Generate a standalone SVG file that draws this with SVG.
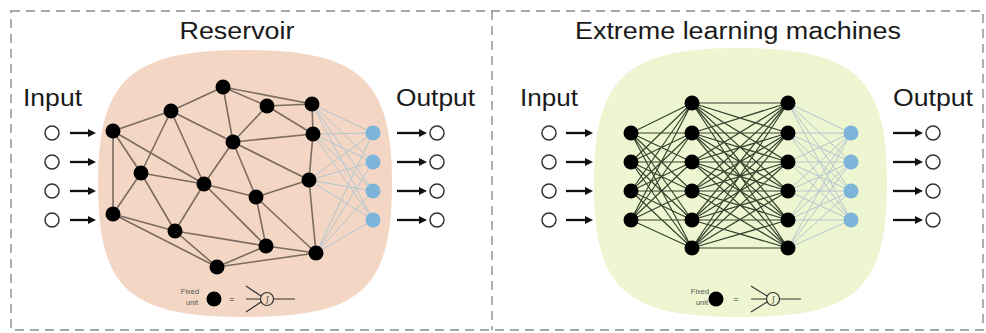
<svg xmlns="http://www.w3.org/2000/svg" width="986" height="333" viewBox="0 0 986 333">
<defs>
<style>
.frame{fill:none;stroke:#8c8c8c;stroke-width:1.4;stroke-dasharray:9 6}
.title{font-family:"Liberation Sans",Arial,sans-serif;font-size:23px;fill:#1a1a1a}
.lbl{font-family:"Liberation Sans",Arial,sans-serif;font-size:23px;fill:#1a1a1a}
.tiny{font-family:"Liberation Sans",Arial,sans-serif;font-size:7.5px;fill:#555}
.io{fill:#fff;stroke:#333;stroke-width:1.5}
.n{fill:#000}
.b{fill:#7db4d9}
.arr{stroke:#111;stroke-width:2.3;fill:none}
.res{stroke:#7b6b60;stroke-width:1.6;fill:none}
.elm{stroke:#37432f;stroke-width:1.2;fill:none}
.lite{stroke:#b4c6cf;stroke-width:1;fill:none}
.sym{stroke:#333;stroke-width:1.2;fill:none}
</style>
<marker id="ah" markerWidth="8" markerHeight="8" refX="1" refY="4" orient="auto" markerUnits="userSpaceOnUse"><path d="M0,0 L8,4 L0,8 Z" fill="#111"/></marker>
</defs>
<rect width="986" height="333" fill="#fff"/>
<rect class="frame" x="11" y="11" width="972" height="319"/>
<line class="frame" x1="492" y1="11" x2="492" y2="330"/>

<!-- blobs -->
<path id="reservoir-bg" d="M245,50 C360,50 392,80 392,183 C392,290 360,317 245,317 C130,317 98,290 98,183 C98,80 130,50 245,50 Z" fill="#f3d7c4"/>
<path id="elm-bg" d="M740,48 C855,48 887,78 887,183 C887,290 855,317 740,317 C625,317 594,290 594,183 C594,78 625,48 740,48 Z" fill="#eef5d1"/>

<text class="title" x="237" y="39" text-anchor="middle" textLength="115" lengthAdjust="spacingAndGlyphs">Reservoir</text>
<text class="title" x="738" y="39" text-anchor="middle" textLength="326" lengthAdjust="spacingAndGlyphs">Extreme learning machines</text>
<text class="lbl" x="23" y="106" textLength="59" lengthAdjust="spacingAndGlyphs">Input</text>
<text class="lbl" x="396" y="106" textLength="79" lengthAdjust="spacingAndGlyphs">Output</text>
<text class="lbl" x="520" y="106" textLength="58" lengthAdjust="spacingAndGlyphs">Input</text>
<text class="lbl" x="893" y="106" textLength="80" lengthAdjust="spacingAndGlyphs">Output</text>

<g id="connectors">
<!-- reservoir internal edges -->
<path class="res" d="M113,131L113,214 M113,131L171,111 M113,131L141,173 M113,131L204,184 M113,214L141,173 M113,214L175,231 M113,214L217,267 M171,111L141,173 M171,111L223,87 M171,111L233,142 M171,111L204,184 M141,173L204,184 M141,173L175,231 M223,87L267,106 M223,87L312,104 M223,87L233,142 M267,106L312,104 M267,106L233,142 M267,106L313,134 M312,104L313,134 M233,142L313,134 M233,142L204,184 M233,142L256,197 M233,142L309,180 M313,134L309,180 M204,184L256,197 M204,184L175,231 M204,184L266,246 M256,197L309,180 M256,197L266,246 M256,197L316,253 M309,180L316,253 M175,231L266,246 M175,231L217,267 M217,267L266,246 M266,246L316,253 M217,267L316,253"/>
<!-- reservoir readout -->
<path class="lite" d="M312,104L373,133 M312,104L373,162 M312,104L373,191 M312,104L373,220 M313,134L373,133 M313,134L373,162 M313,134L373,191 M313,134L373,220 M309,180L373,133 M309,180L373,162 M309,180L373,191 M309,180L373,220 M316,253L373,133 M316,253L373,162 M316,253L373,191 M316,253L373,220"/>
<!-- ELM layer1 -> layer2 -->
<path class="elm" d="M631,133L692,103 M631,133L692,133 M631,133L692,162 M631,133L692,191 M631,133L692,220 M631,133L692,248 M631,162L692,103 M631,162L692,133 M631,162L692,162 M631,162L692,191 M631,162L692,220 M631,162L692,248 M631,191L692,103 M631,191L692,133 M631,191L692,162 M631,191L692,191 M631,191L692,220 M631,191L692,248 M631,220L692,103 M631,220L692,133 M631,220L692,162 M631,220L692,191 M631,220L692,220 M631,220L692,248"/>
<!-- ELM layer2 -> layer3 -->
<path class="elm" d="M692,103L788,103 M692,103L788,133 M692,103L788,162 M692,103L788,191 M692,103L788,220 M692,103L788,248 M692,133L788,103 M692,133L788,133 M692,133L788,162 M692,133L788,191 M692,133L788,220 M692,133L788,248 M692,162L788,103 M692,162L788,133 M692,162L788,162 M692,162L788,191 M692,162L788,220 M692,162L788,248 M692,191L788,103 M692,191L788,133 M692,191L788,162 M692,191L788,191 M692,191L788,220 M692,191L788,248 M692,220L788,103 M692,220L788,133 M692,220L788,162 M692,220L788,191 M692,220L788,220 M692,220L788,248 M692,248L788,103 M692,248L788,133 M692,248L788,162 M692,248L788,191 M692,248L788,220 M692,248L788,248"/>
<!-- ELM layer3 -> output -->
<path class="lite" d="M788,103L851,133 M788,103L851,162 M788,103L851,191 M788,103L851,220 M788,133L851,133 M788,133L851,162 M788,133L851,191 M788,133L851,220 M788,162L851,133 M788,162L851,162 M788,162L851,191 M788,162L851,220 M788,191L851,133 M788,191L851,162 M788,191L851,191 M788,191L851,220 M788,220L851,133 M788,220L851,162 M788,220L851,191 M788,220L851,220 M788,248L851,133 M788,248L851,162 M788,248L851,191 M788,248L851,220"/>
<!-- input / output arrows -->
<path class="arr" marker-end="url(#ah)" d="M70,133H89"/>
<path class="arr" marker-end="url(#ah)" d="M70,162H89"/>
<path class="arr" marker-end="url(#ah)" d="M70,191H89"/>
<path class="arr" marker-end="url(#ah)" d="M70,220H89"/>
<path class="arr" marker-end="url(#ah)" d="M397,133H420"/>
<path class="arr" marker-end="url(#ah)" d="M397,162H420"/>
<path class="arr" marker-end="url(#ah)" d="M397,191H420"/>
<path class="arr" marker-end="url(#ah)" d="M397,220H420"/>
<path class="arr" marker-end="url(#ah)" d="M566,133H586"/>
<path class="arr" marker-end="url(#ah)" d="M566,162H586"/>
<path class="arr" marker-end="url(#ah)" d="M566,191H586"/>
<path class="arr" marker-end="url(#ah)" d="M566,220H586"/>
<path class="arr" marker-end="url(#ah)" d="M893,133H916"/>
<path class="arr" marker-end="url(#ah)" d="M893,162H916"/>
<path class="arr" marker-end="url(#ah)" d="M893,191H916"/>
<path class="arr" marker-end="url(#ah)" d="M893,220H916"/>
</g>

<!-- left io circles -->
<g id="in-l1"><circle class="io" cx="52" cy="133" r="7"/></g>
<g id="in-l2"><circle class="io" cx="52" cy="162" r="7"/></g>
<g id="in-l3"><circle class="io" cx="52" cy="191" r="7"/></g>
<g id="in-l4"><circle class="io" cx="52" cy="220" r="7"/></g>
<g id="out-l1"><circle class="io" cx="437" cy="133" r="7"/></g>
<g id="out-l2"><circle class="io" cx="437" cy="162" r="7"/></g>
<g id="out-l3"><circle class="io" cx="437" cy="191" r="7"/></g>
<g id="out-l4"><circle class="io" cx="437" cy="220" r="7"/></g>
<g id="in-r1"><circle class="io" cx="549" cy="133" r="7"/></g>
<g id="in-r2"><circle class="io" cx="549" cy="162" r="7"/></g>
<g id="in-r3"><circle class="io" cx="549" cy="191" r="7"/></g>
<g id="in-r4"><circle class="io" cx="549" cy="220" r="7"/></g>
<g id="out-r1"><circle class="io" cx="933" cy="133" r="7"/></g>
<g id="out-r2"><circle class="io" cx="933" cy="162" r="7"/></g>
<g id="out-r3"><circle class="io" cx="933" cy="191" r="7"/></g>
<g id="out-r4"><circle class="io" cx="933" cy="220" r="7"/></g>

<!-- reservoir nodes -->
<g id="res-A"><circle class="n" cx="113" cy="131" r="7.5"/></g>
<g id="res-B"><circle class="n" cx="113" cy="214" r="7.5"/></g>
<g id="res-C"><circle class="n" cx="171" cy="111" r="7.5"/></g>
<g id="res-D"><circle class="n" cx="141" cy="173" r="7.5"/></g>
<g id="res-E"><circle class="n" cx="223" cy="87" r="7.5"/></g>
<g id="res-F"><circle class="n" cx="267" cy="106" r="7.5"/></g>
<g id="res-G"><circle class="n" cx="312" cy="104" r="7.5"/></g>
<g id="res-H"><circle class="n" cx="233" cy="142" r="7.5"/></g>
<g id="res-I"><circle class="n" cx="313" cy="134" r="7.5"/></g>
<g id="res-J"><circle class="n" cx="204" cy="184" r="7.5"/></g>
<g id="res-K"><circle class="n" cx="256" cy="197" r="7.5"/></g>
<g id="res-L"><circle class="n" cx="309" cy="180" r="7.5"/></g>
<g id="res-M"><circle class="n" cx="175" cy="231" r="7.5"/></g>
<g id="res-N"><circle class="n" cx="266" cy="246" r="7.5"/></g>
<g id="res-O"><circle class="n" cx="217" cy="267" r="7.5"/></g>
<g id="res-P"><circle class="n" cx="316" cy="253" r="7.5"/></g>
<g id="res-out1"><circle class="b" cx="373" cy="133" r="7.5"/></g>
<g id="res-out2"><circle class="b" cx="373" cy="162" r="7.5"/></g>
<g id="res-out3"><circle class="b" cx="373" cy="191" r="7.5"/></g>
<g id="res-out4"><circle class="b" cx="373" cy="220" r="7.5"/></g>

<!-- ELM nodes -->
<g id="elm-l1-1"><circle class="n" cx="631" cy="133" r="7.5"/></g>
<g id="elm-l1-2"><circle class="n" cx="631" cy="162" r="7.5"/></g>
<g id="elm-l1-3"><circle class="n" cx="631" cy="191" r="7.5"/></g>
<g id="elm-l1-4"><circle class="n" cx="631" cy="220" r="7.5"/></g>
<g id="elm-l2-1"><circle class="n" cx="692" cy="103" r="7.5"/></g>
<g id="elm-l2-2"><circle class="n" cx="692" cy="133" r="7.5"/></g>
<g id="elm-l2-3"><circle class="n" cx="692" cy="162" r="7.5"/></g>
<g id="elm-l2-4"><circle class="n" cx="692" cy="191" r="7.5"/></g>
<g id="elm-l2-5"><circle class="n" cx="692" cy="220" r="7.5"/></g>
<g id="elm-l2-6"><circle class="n" cx="692" cy="248" r="7.5"/></g>
<g id="elm-l3-1"><circle class="n" cx="788" cy="103" r="7.5"/></g>
<g id="elm-l3-2"><circle class="n" cx="788" cy="133" r="7.5"/></g>
<g id="elm-l3-3"><circle class="n" cx="788" cy="162" r="7.5"/></g>
<g id="elm-l3-4"><circle class="n" cx="788" cy="191" r="7.5"/></g>
<g id="elm-l3-5"><circle class="n" cx="788" cy="220" r="7.5"/></g>
<g id="elm-l3-6"><circle class="n" cx="788" cy="248" r="7.5"/></g>
<g id="elm-out1"><circle class="b" cx="851" cy="133" r="7.5"/></g>
<g id="elm-out2"><circle class="b" cx="851" cy="162" r="7.5"/></g>
<g id="elm-out3"><circle class="b" cx="851" cy="191" r="7.5"/></g>
<g id="elm-out4"><circle class="b" cx="851" cy="220" r="7.5"/></g>

<!-- legends -->
<g id="legend-left">
<text class="tiny" x="190" y="294" text-anchor="middle">Fixed</text>
<text class="tiny" x="192" y="305" text-anchor="middle">unit</text>
<circle class="n" cx="214" cy="299" r="7.5"/>
<text class="tiny" x="232" y="302" text-anchor="middle" style="font-size:9px;fill:#333">=</text>
<path class="sym" d="M246,286L261,296 M246,312L261,302 M246,299H260 M274,299H295"/>
<circle class="sym" cx="267" cy="299" r="6.5"/>
<text class="tiny" x="267" y="302" text-anchor="middle" style="font-size:8px;fill:#333">∫</text>
</g>
<g id="legend-right">
<text class="tiny" x="700" y="294" text-anchor="middle">Fixed</text>
<text class="tiny" x="702" y="305" text-anchor="middle">unit</text>
<circle class="n" cx="716" cy="299" r="7.5"/>
<text class="tiny" x="736" y="302" text-anchor="middle" style="font-size:9px;fill:#333">=</text>
<path class="sym" d="M751,286L767,296 M751,312L767,302 M751,299H766 M780,299H801"/>
<circle class="sym" cx="773" cy="299" r="6.5"/>
<text class="tiny" x="773" y="302" text-anchor="middle" style="font-size:8px;fill:#333">∫</text>
</g>
</svg>
